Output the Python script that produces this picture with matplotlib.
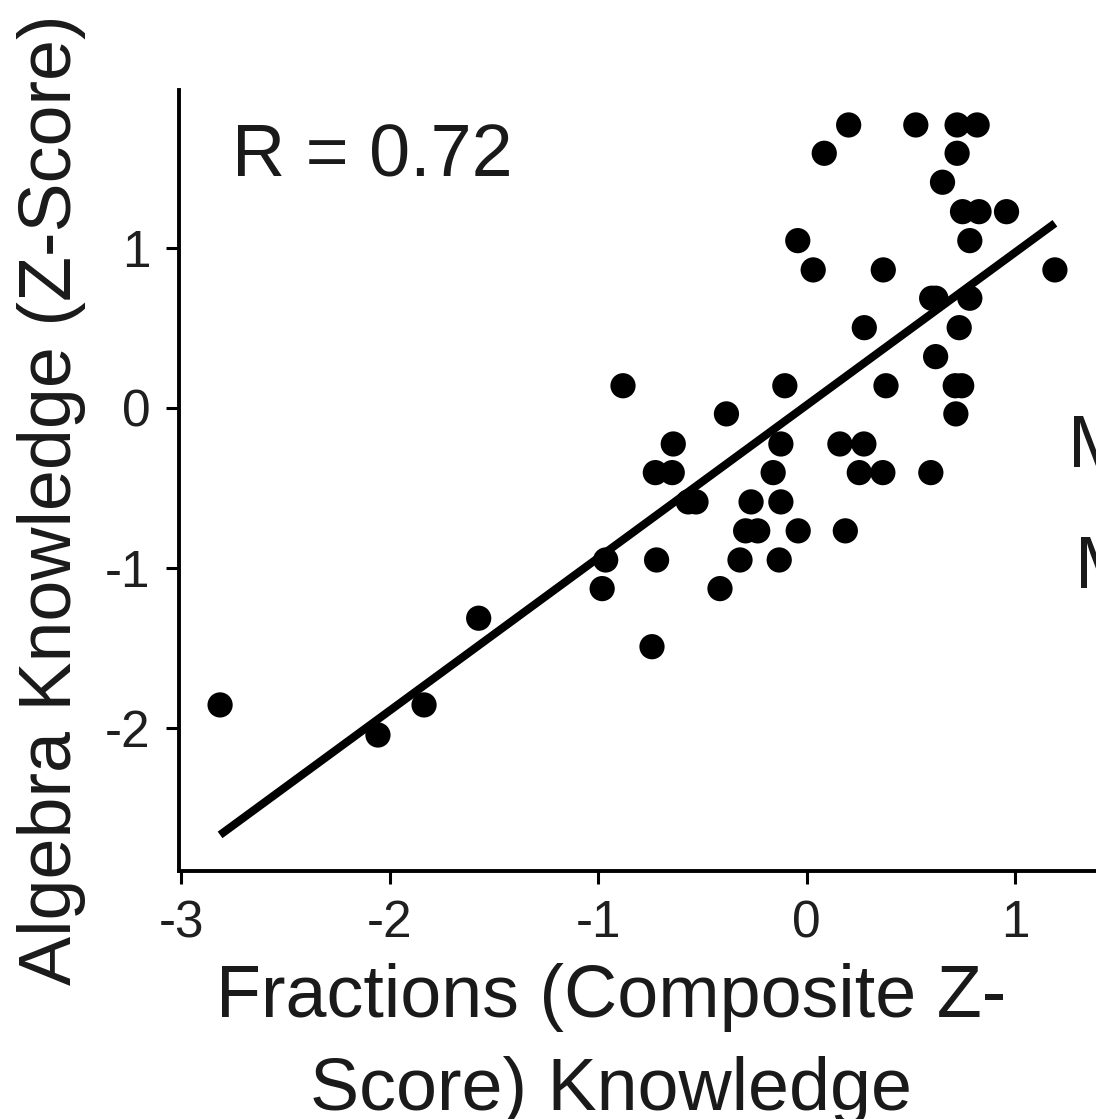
import matplotlib
matplotlib.use("Agg")
import matplotlib.pyplot as plt
import numpy as np

plt.rcParams['font.family'] = ['Liberation Sans', 'DejaVu Sans']

# Data (Fractions composite z-score vs Algebra z-score)
fractions_z = [0.201, 0.523, 0.721, 0.817,
               0.084, 0.721,
               0.651,
               0.747, 0.826, 0.958,
               -0.043, 0.782,
               0.031, 0.367, 1.190,
               0.599, 0.619, 0.782,
               0.276, 0.731,
               0.618,
               -0.881, -0.105, 0.380, 0.712, 0.743,
               0.715, -0.385,
               -0.640, -0.124, 0.159, 0.274,
               -0.726, -0.645, -0.161, 0.252, 0.365, 0.595,
               -0.568, -0.531, -0.267, -0.124,
               -0.293, -0.235, -0.041, 0.185,
               -0.964, -0.720, -0.320, -0.132,
               -0.981, -0.416,
               -0.742,
               -1.573,
               -2.813, -1.835,
               -2.056]
algebra_z = [1.769, 1.769, 1.769, 1.769,
             1.592, 1.592,
             1.411,
             1.227, 1.227, 1.227,
             1.046, 1.046,
             0.863, 0.863, 0.863,
             0.686, 0.686, 0.686,
             0.502, 0.502,
             0.321,
             0.139, 0.139, 0.139, 0.139, 0.139,
             -0.037, -0.037,
             -0.225, -0.225, -0.225, -0.225,
             -0.404, -0.404, -0.404, -0.404, -0.404, -0.404,
             -0.587, -0.587, -0.587, -0.587,
             -0.768, -0.768, -0.768, -0.768,
             -0.950, -0.950, -0.950, -0.950,
             -1.129, -1.129,
             -1.492,
             -1.314,
             -1.856, -1.856,
             -2.044]

fit_slope = 0.955
fit_intercept = 0.018
r_label = "R = 0.72"

x_ticks = [-3, -2, -1, 0, 1]
y_ticks = [-2, -1, 0, 1]

W, H = 1096, 1119
fig = plt.figure(figsize=(W / 100, H / 100), dpi=100)
left = 179 / W
bottom = 1 - 871 / H
top = 1 - 90 / H
ax = fig.add_axes([left, bottom, 1.0 - left, top - bottom])

ax.scatter(fractions_z, algebra_z, s=330, color='black', edgecolors='none', zorder=2)

fx = np.array([min(fractions_z), max(fractions_z)])
ax.plot(fx, fit_intercept + fit_slope * fx, color='black', lw=5.8,
        solid_capstyle='butt', zorder=3)

ax.set_xlim(-3.01, 1.387)
ax.set_ylim(-2.894, 1.9875)
ax.set_xticks(x_ticks)
ax.set_yticks(y_ticks)
ax.set_xticklabels([str(t) for t in x_ticks])
ax.set_yticklabels([str(t) for t in y_ticks])

for s in ['top', 'right']:
    ax.spines[s].set_visible(False)
for s in ['left', 'bottom']:
    ax.spines[s].set_linewidth(2.8)
    ax.spines[s].set_color('black')
ax.tick_params(axis='both', length=9.5, width=2.2, color='black',
               labelsize=37, labelcolor='#1f1f1f', pad=11)

ax.text(-2.756, 1.444, r_label, fontsize=53, color='#1a1a1a',
        ha='left', va='baseline')

# x-axis label (two lines)
fig.text(611 / W, 1 - 1017 / H, "Fractions (Composite Z-", fontsize=53,
         color='#1a1a1a', ha='center', va='baseline')
fig.text(611 / W, 1 - 1110 / H, "Score) Knowledge", fontsize=53,
         color='#1a1a1a', ha='center', va='baseline')

# y-axis label
fig.text(52 / W, 1 - 500 / H, "Algebra Knowledge (Z-Score)", fontsize=53,
         color='#1a1a1a', ha='center', va='center', rotation=90)

# partially visible text at the right edge
fig.text(1068 / W, 1 - 467 / H, "M", fontsize=53, color='#1a1a1a',
         ha='left', va='baseline')
fig.text(1075 / W, 1 - 588 / H, "M", fontsize=53, color='#1a1a1a',
         ha='left', va='baseline')

fig.savefig("out.png", dpi=100)
